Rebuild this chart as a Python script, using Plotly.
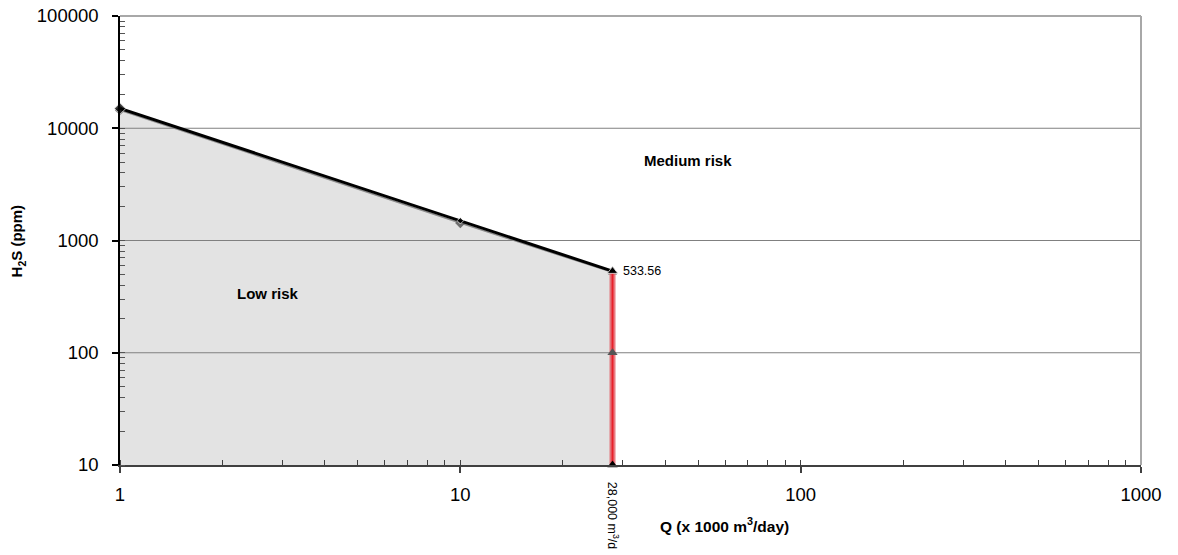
import math
import plotly.graph_objects as go

# ---- data ----
q_points = [1, 10, 28]                 # Q (x 1000 m3/day)
h2s_limit = [15000, 1500, 533.56]      # black boundary line (ppm)
h2s_fill_edge = [14500, 1430, 520]     # grey (filled) series
q_cut = [28, 28, 28]                   # 28,000 m3/d cut-off
h2s_cut = [10, 100, 533.56]
x_ticks = [1, 10, 100, 1000]
x_tick_text = ["1", "10", "100", "1000"]
y_ticks = [10, 100, 1000, 10000, 100000]
y_tick_text = ["10", "100", "1000", "10000", "100000"]
grid_levels = [100, 1000, 10000]

FONT = "Liberation Sans, Arial, sans-serif"
y_min = y_ticks[0]
lg = math.log10

fig = go.Figure()

# low-risk fill area
fig.add_trace(go.Scatter(
    x=q_points + [q_points[-1], q_points[0]],
    y=h2s_fill_edge + [y_min, y_min],
    fill="toself", fillcolor="#e3e3e3", mode="lines",
    line=dict(color="#e3e3e3", width=0), hoverinfo="skip", showlegend=False))

# horizontal gridlines drawn above the fill
for g in grid_levels:
    fig.add_trace(go.Scatter(
        x=[x_ticks[0], x_ticks[-1]], y=[g, g], mode="lines",
        line=dict(color="#808080", width=1.2), hoverinfo="skip", showlegend=False))

# grey series
fig.add_trace(go.Scatter(
    x=q_points, y=h2s_fill_edge, mode="lines+markers", cliponaxis=False,
    line=dict(color="#8c8c8c", width=1.5),
    marker=dict(symbol=["diamond", "diamond", "triangle-up"], size=8, color="#6e6e6e"),
    showlegend=False))

# red cut-off line
fig.add_trace(go.Scatter(
    x=[q_cut[0], q_cut[-1]], y=[h2s_cut[0], h2s_cut[-1]], mode="lines",
    line=dict(color="rgba(225,80,90,0.75)", width=6), showlegend=False))
fig.add_trace(go.Scatter(
    x=[q_cut[0], q_cut[-1]], y=[h2s_cut[0], h2s_cut[-1]], mode="lines",
    line=dict(color="#e8202a", width=2), showlegend=False))
fig.add_trace(go.Scatter(
    x=q_cut, y=h2s_cut, mode="markers", cliponaxis=False,
    marker=dict(symbol="triangle-up", size=9, color=["#000000", "#555555", "#000000"]),
    showlegend=False))

# black boundary line
fig.add_trace(go.Scatter(
    x=q_points, y=h2s_limit, mode="lines+markers", cliponaxis=False,
    line=dict(color="#000000", width=3),
    marker=dict(symbol=["diamond", "diamond", "triangle-up"], size=[9, 5, 9], color="#000000"),
    showlegend=False))

fig.update_layout(
    width=1178, height=555,
    margin=dict(l=120, r=37, t=16, b=90, autoexpand=False),
    paper_bgcolor="white", plot_bgcolor="white",
    font=dict(family=FONT, color="#000000"),
    xaxis=dict(
        type="log", range=[0, 3],
        tickvals=x_ticks, ticktext=x_tick_text,
        tickfont=dict(size=18.5, family=FONT),
        showgrid=False, zeroline=False,
        showline=True, linecolor="#404040", linewidth=2,
        ticks="outside", ticklen=6, tickcolor="#404040", tickwidth=1.5,
        ticklabelstandoff=6, ticklabeloverflow="allow",
        minor=dict(ticks="inside", ticklen=5, tickcolor="#404040", tickwidth=1, dtick="D1", showgrid=False),
    ),
    yaxis=dict(
        type="log", range=[1, 5],
        tickvals=y_ticks, ticktext=y_tick_text,
        tickfont=dict(size=18.5, family=FONT),
        showgrid=False, zeroline=False,
        showline=True, linecolor="#000000", linewidth=1.5,
        ticks="outside", ticklen=6, tickcolor="#000000", tickwidth=1.5,
        ticklabelstandoff=10, ticklabeloverflow="allow",
        minor=dict(ticks="inside", ticklen=5, tickcolor="#555555", tickwidth=1, dtick="D1", showgrid=False),
    ),
    shapes=[
        dict(type="line", xref="paper", yref="paper", x0=0, x1=1, y0=1, y1=1,
             line=dict(color="#a8a8a8", width=2)),
        dict(type="line", xref="paper", yref="paper", x0=1, x1=1, y0=0, y1=1,
             line=dict(color="#a8a8a8", width=2)),
    ],
    annotations=[
        dict(x=1.67, y=3.717, xref="x", yref="y", text="<b>Medium risk</b>", showarrow=False,
             font=dict(size=15, family=FONT)),
        dict(x=0.434, y=2.532, xref="x", yref="y", text="<b>Low risk</b>", showarrow=False,
             font=dict(size=15, family=FONT)),
        dict(x=lg(q_cut[-1]), y=lg(h2s_cut[-1]), xref="x", yref="y", text="533.56", showarrow=False,
             xanchor="left", xshift=8, font=dict(size=12.5, family=FONT)),
        dict(x=lg(q_cut[0]), y=-0.033, xref="x", yref="paper", text="28,000 m<sup>3</sup>/d",
             showarrow=False, textangle=90, yanchor="top", font=dict(size=12.5, family=FONT)),
        dict(x=(724 - 120) / (1141 - 120), y=-0.134, xref="paper", yref="paper",
             text="<b>Q (x 1000 m<sup>3</sup>/day)</b>", showarrow=False, yanchor="middle",
             font=dict(size=15.5, family=FONT)),
        dict(x=-0.100, y=0.5, xref="paper", yref="paper", xanchor="center",
             text="<b>H<sub>2</sub>S (ppm)</b>", showarrow=False, textangle=-90,
             font=dict(size=15, family=FONT)),
    ],
)

fig.write_html("out.html", config={"displayModeBar": False},
               post_script="document.body.style.margin='0';")
